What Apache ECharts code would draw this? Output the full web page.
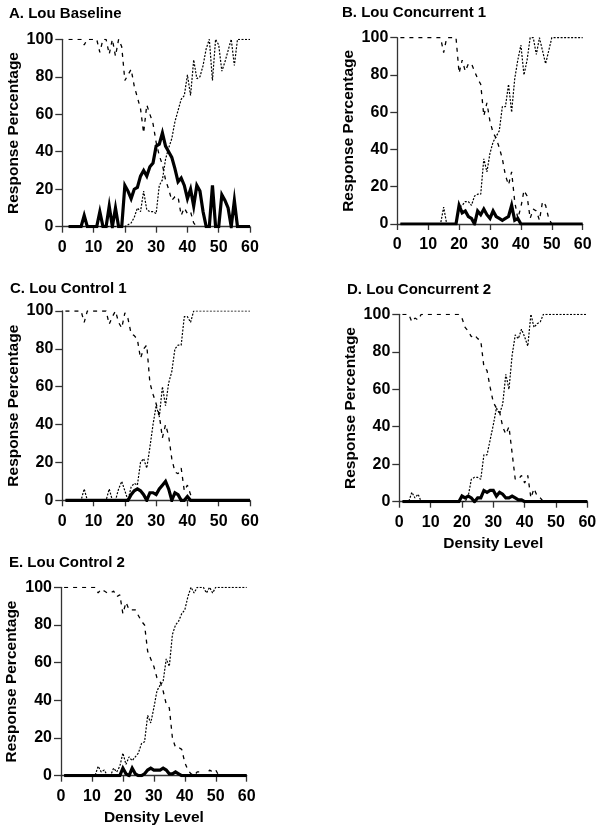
<!DOCTYPE html>
<html>
<head>
<meta charset="utf-8">
<script src="https://cdn.jsdelivr.net/npm/echarts@6/dist/echarts.min.js"></script>
<style>
html,body{margin:0;padding:0;background:#fff;}
#chart{width:602px;height:834px;}
</style>
</head>
<body>
<div id="chart"></div>
<script>
// Density levels 1..60
var densityLevels = [];
for (var i = 1; i <= 60; i++) densityLevels.push(i);

var xTicks = [0, 10, 20, 30, 40, 50, 60];
var yTicks = [0, 20, 40, 60, 80, 100];

var panelTitles = ['A. Lou Baseline', 'B. Lou Concurrent 1', 'C. Lou Control 1', 'D. Lou Concurrent 2', 'E. Lou Control 2'];

// ---------- A. Lou Baseline ----------
var baselineDashed = [null,100,100,100,100,100,97,100,100,100,100,93,100,100,92,100,91,100,96,78,
  81,84,75,69,63,50,65,60,55,45,38,33,25,20,14,16,16,6,10,7,
  8,2,0,null,null,null,null,null,null,null,null,null,null,null,null,null,null,null,null,null];
var baselineDotted = [null,0,0,0,0,0,0,0,0,0,0,0,0,0,0,0,0,0,0,0,
  1,2,5,10,8,19,9,8,8,7,22,25,36,42,47,56,62,68,70,81,
  70,89,79,80,86,95,100,78,100,97,83,88,94,100,86,100,100,100,100,100];
var baselineThick = [null,0,0,0,0,0,6,0,0,0,0,8,0,0,11,0,10,0,0,22,
  19,15,20,21,27,30,27,32,34,43,44,50,43,40,37,31,24,26,22,15,
  20,11,22,19,8,0,0,22,0,0,17,14,10,0,14,0,0,0,0,0];

// ---------- B. Lou Concurrent 1 ----------
var concurrent1Dashed = [100,100,100,100,100,100,100,100,100,100,100,100,100,100,92,100,100,100,100,81,
  88,82,86,86,82,78,75,58,65,55,49,46,41,35,26,21,28,12,3,9,
  18,15,3,8,7,2,12,10,3,0,null,null,null,null,null,null,null,null,null,null];
var concurrent1Dotted = [0,0,0,0,0,0,0,0,0,0,0,0,0,0,9,0,0,0,0,9,
  10,12,12,10,15,16,16,35,28,38,44,47,50,63,63,75,60,78,88,96,
  80,88,100,100,91,100,93,86,93,100,100,100,100,100,100,100,100,100,100,100];
var concurrent1Thick = [0,0,0,0,0,0,0,0,0,0,0,0,0,0,0,0,0,0,0,10,
  6,7,4,3,0,7,5,8,5,3,7,4,3,2,3,4,10,2,3,0,
  0,0,0,0,0,0,0,0,0,0,0,0,0,0,0,0,0,0,0,0];

// ---------- C. Lou Control 1 ----------
var control1Dashed = [100,100,100,100,100,100,94,100,100,100,100,100,100,100,93,97,100,94,91,99,
  96,88,87,85,75,80,82,62,56,51,45,33,40,34,22,15,14,17,5,8,
  3,0,null,null,null,null,null,null,null,null,null,null,null,null,null,null,null,null,null,null];
var control1Dotted = [0,0,0,0,0,0,6,0,0,0,0,0,0,0,6,0,0,6,10,5,
  0,7,9,8,20,22,17,28,40,50,44,60,50,62,68,80,82,82,97,97,
  94,100,100,100,100,100,100,100,100,100,100,100,100,100,100,100,100,100,100,100];
var control1Thick = [0,0,0,0,0,0,0,0,0,0,0,0,0,0,0,0,0,0,0,0,
  0,3,5,6,5,3,0,4,4,3,6,8,10,6,0,4,3,0,0,2,
  0,0,0,0,0,0,0,0,0,0,0,0,0,0,0,0,0,0,0,0];

// ---------- D. Lou Concurrent 2 ----------
var concurrent2Dashed = [100,100,100,96,98,97,100,100,100,100,100,100,100,100,100,100,100,100,100,98,
  93,91,88,89,87,86,72,70,61,53,50,48,40,36,40,26,12,12,14,10,
  14,2,7,3,2,0,null,null,null,null,null,null,null,null,null,null,null,null,null,null];
var concurrent2Dotted = [0,0,0,5,2,4,0,0,0,0,0,0,0,0,0,0,0,0,0,0,
  0,3,12,13,13,12,25,25,33,41,50,47,52,68,60,78,89,87,92,88,
  83,100,93,95,96,100,100,100,100,100,100,100,100,100,100,100,100,100,100,100];
var concurrent2Thick = [0,0,0,0,0,0,0,0,0,0,0,0,0,0,0,0,0,0,0,3,
  2,3,2,0,2,2,6,5,6,6,3,5,4,2,2,3,2,1,1,0,
  0,0,0,0,0,0,0,0,0,0,0,0,0,0,0,0,0,0,0,0];

// ---------- E. Lou Control 2 ----------
var control2Dashed = [100,100,100,100,100,100,100,100,100,100,100,97,99,98,97,97,98,95,96,86,
  92,88,88,88,85,82,80,66,62,58,52,50,45,38,36,20,15,15,14,7,
  3,1,0,2,2,0,0,3,2,3,0,null,null,null,null,null,null,null,null,null];
var control2Dotted = [0,0,0,0,0,0,0,0,0,0,0,5,2,3,0,0,4,2,5,12,
  6,10,8,10,12,17,18,32,28,36,45,48,50,62,58,75,80,82,86,88,
  95,100,97,100,100,100,97,100,97,100,100,100,100,100,100,100,100,100,100,100];
var control2Thick = [0,0,0,0,0,0,0,0,0,0,0,0,0,0,0,0,0,0,0,4,
  1,0,4,1,0,0,1,3,4,3,3,3,4,3,1,1,2,1,0,0,
  0,0,0,0,0,0,0,0,0,0,0,0,0,0,0,0,0,0,0,0];

var panelData = [
  [baselineDashed, baselineDotted, baselineThick],
  [concurrent1Dashed, concurrent1Dotted, concurrent1Thick],
  [control1Dashed, control1Dotted, control1Thick],
  [concurrent2Dashed, concurrent2Dotted, concurrent2Thick],
  [control2Dashed, control2Dotted, control2Thick]
];

// layout (pixels)
var grids = [
  {left: 62.3, top: 39.3, width: 187.7, height: 187.4},
  {left: 397.3, top: 37.7, width: 185.4, height: 186.3},
  {left: 62.3, top: 311, width: 187.7, height: 189.3},
  {left: 399.3, top: 314.3, width: 188, height: 187.4},
  {left: 61, top: 587.3, width: 185.7, height: 188.4}
];
var titlePos = [
  {left: 9, top: 6},
  {left: 342, top: 5},
  {left: 10, top: 281},
  {left: 347, top: 282},
  {left: 9, top: 555}
];
var showXName = [false, false, false, true, true];

var FONT = 'Liberation Sans, Arial, sans-serif';
var axisLineStyle = {color: '#333', width: 1.3};

function pairs(arr) {
  return densityLevels.map(function (x, i) { return [x, arr[i]]; });
}

var option = {
  animation: false,
  backgroundColor: '#fff',
  title: [], grid: [], xAxis: [], yAxis: [], series: []
};

for (var p = 0; p < 5; p++) {
  option.title.push({
    text: panelTitles[p], left: titlePos[p].left, top: titlePos[p].top, padding: 0,
    textStyle: {fontFamily: FONT, fontSize: 15, fontWeight: 'bold', color: '#000'}
  });
  option.grid.push(Object.assign({containLabel: false}, grids[p]));
  option.xAxis.push({
    type: 'value', gridIndex: p, min: xTicks[0], max: xTicks[xTicks.length - 1], interval: 10,
    name: showXName[p] ? 'Density Level' : '', nameLocation: 'middle', nameGap: 34,
    nameTextStyle: {fontFamily: FONT, fontSize: 15.5, fontWeight: 'bold', color: '#000'},
    axisLine: {show: true, lineStyle: axisLineStyle},
    axisTick: {show: true, length: 6, lineStyle: axisLineStyle},
    axisLabel: {fontFamily: FONT, fontSize: 16, fontWeight: 'bold', color: '#000', margin: 13},
    splitLine: {show: false}
  });
  option.yAxis.push({
    type: 'value', gridIndex: p, min: yTicks[0], max: yTicks[yTicks.length - 1], interval: 20,
    name: 'Response Percentage', nameLocation: 'middle', nameGap: 41, nameRotate: 90,
    nameTextStyle: {fontFamily: FONT, fontSize: 15.5, fontWeight: 'bold', color: '#000'},
    axisLine: {show: true, lineStyle: axisLineStyle},
    axisTick: {show: true, length: 7, lineStyle: axisLineStyle},
    axisLabel: {fontFamily: FONT, fontSize: 16, fontWeight: 'bold', color: '#000', margin: 9},
    splitLine: {show: false}
  });
  var d = panelData[p];
  option.series.push({
    type: 'line', xAxisIndex: p, yAxisIndex: p, data: pairs(d[0]), symbol: 'none',
    connectNulls: false, silent: true,
    lineStyle: {color: '#000', width: 1.3, type: [4, 5]}
  });
  option.series.push({
    type: 'line', xAxisIndex: p, yAxisIndex: p, data: pairs(d[1]), symbol: 'none',
    connectNulls: false, silent: true,
    lineStyle: {color: '#000', width: 1.2, type: [2, 1.5]}
  });
  option.series.push({
    type: 'line', xAxisIndex: p, yAxisIndex: p, data: pairs(d[2]), symbol: 'none',
    connectNulls: false, silent: true, z: 5,
    lineStyle: {color: '#000', width: 3.2, join: 'miter'}
  });
}

var chart = echarts.init(document.getElementById('chart'), null, {renderer: 'canvas'});
chart.setOption(option);
</script>
</body>
</html>
